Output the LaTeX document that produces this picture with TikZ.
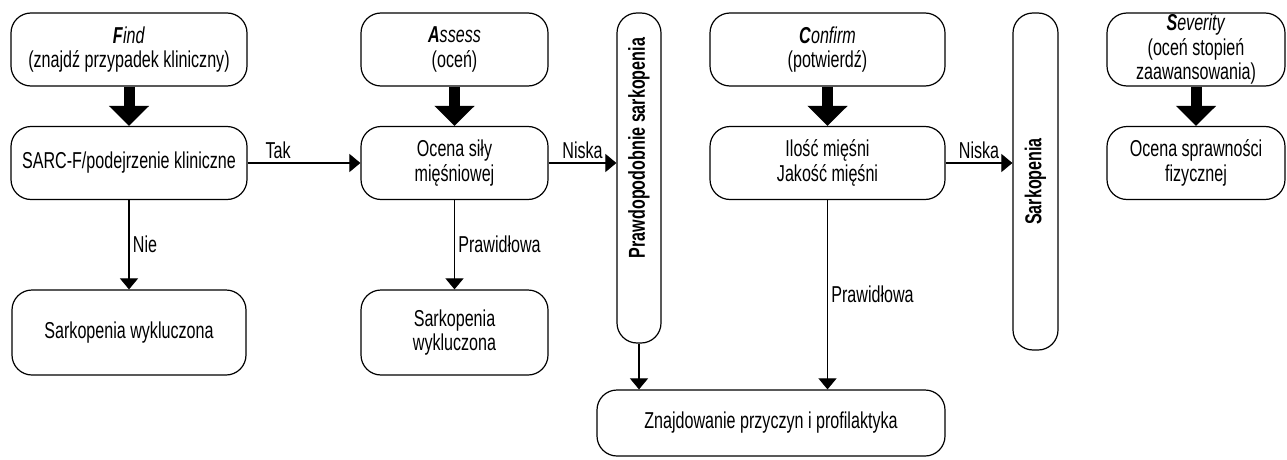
\documentclass[tikz,border=0pt]{standalone}
\usepackage{fontspec}
\setmainfont{Liberation Sans}[FakeStretch=0.70]
\usetikzlibrary{arrows.meta,calc}
\begin{document}
\begin{tikzpicture}[x=1pt,y=-1pt,
  txt/.style={font=\fontsize{23}{24.5}\selectfont},
  box/.style={draw, line width=1.2pt, rounded corners=20pt, align=center, inner sep=0pt, txt},
  sbox/.style={box, minimum width=#1, minimum height=73pt},
  vbox/.style={draw, line width=1.2pt, rounded corners=20pt, inner sep=0pt},
  vtxt/.style={rotate=90, font=\fontsize{23}{24}\selectfont\bfseries},
  thinarr/.style={line width=1.1pt, -{Triangle[width=18pt,length=11pt]}},
  thickarr/.style={line width=11pt, -{Triangle[width=39pt,length=20pt]}},
  lab/.style={txt}]
\useasboundingbox (0,0) rectangle (1287,460);

% column 1
\node[sbox=236pt] (find) at (129,49.5) {\textbf{\textit{F}}\textit{ind}\\(znajdź przypadek kliniczny)};
\node[sbox=236pt] (sarc) at (129,163) {SARC-F/podejrzenie kliniczne};
\node[box, minimum width=234pt, minimum height=85pt] (excl1) at (129,332.5) {Sarkopenia wykluczona};

% column 2
\node[sbox=187pt] (assess) at (454.5,49.5) {\textbf{\textit{A}}\textit{ssess}\\(oceń)};
\node[sbox=187pt] (ocena) at (454.5,163) {Ocena siły\\mięśniowej};
\node[box, minimum width=187pt, minimum height=85pt] (excl2) at (454.5,332.5) {Sarkopenia\\wykluczona};

% vertical boxes
\node[vbox, minimum width=44pt, minimum height=330pt] (prawd) at (639,178) {};
\node[vtxt] (prawdtxt) at ($(prawd.center)+(0,-30)$) {Prawdopodobnie sarkopenia};

% column 3
\node[sbox=235pt] (confirm) at (827.5,49.5) {\textbf{\textit{C}}\textit{onfirm}\\(potwierdź)};
\node[sbox=235pt] (ilosc) at (827.5,163) {Ilość mięśni\\Jakość mięśni};

\node[vbox, minimum width=45pt, minimum height=337pt] (sark) at (1035.5,181.5) {};
\node[vtxt] (sarktxt) at (sark.center) {Sarkopenia};

% column 4
\node[sbox=178pt] (sever) at (1196,49.5) {\textbf{\textit{S}}\textit{everity}\\(oceń stopień\\zaawansowania)};
\node[sbox=178pt] (sprawn) at (1196,163) {Ocena sprawności\\fizycznej};

% bottom
\node[box, minimum width=348pt, minimum height=66pt] (znaj) at (771,423) {Znajdowanie przyczyn i profilaktyka};

% thick arrows
\draw[thickarr] (find.south) -- (sarc.north);
\draw[thickarr] (assess.south) -- (ocena.north);
\draw[thickarr] (confirm.south) -- (ilosc.north);
\draw[thickarr] (sever.south) -- (sprawn.north);

% thin arrows
\draw[thinarr] (sarc.east) -- node[lab, above, pos=0.27] {Tak} (ocena.west);
\draw[thinarr] (sarc.south) -- node[lab, right] {Nie} (excl1.north);
\draw[thinarr] (ocena.south) -- node[lab, right] {Prawidłowa} (excl2.north);
\draw[thinarr] (ocena.east) -- node[lab, above] {Niska} (ocena.east -| prawd.west);
\draw[thinarr] (ilosc.east) -- node[lab, above] {Niska} (ilosc.east -| sark.west);
\draw[thinarr] (prawd.south) -- (prawd.south |- znaj.north);
\draw[thinarr] (ilosc.south) -- node[lab, right] {Prawidłowa} (ilosc.south |- znaj.north);
\end{tikzpicture}
\end{document}
